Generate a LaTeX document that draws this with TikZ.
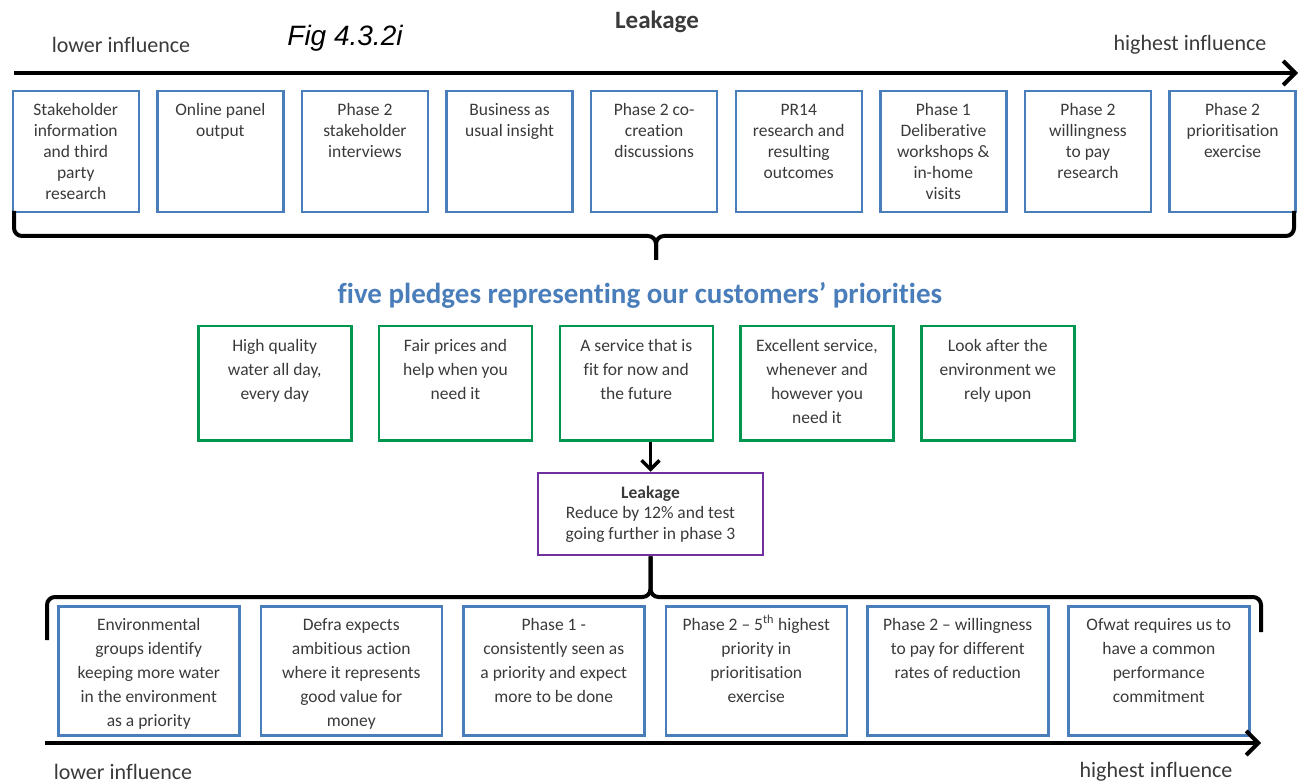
\documentclass[tikz,border=0pt]{standalone}
\usepackage{fontspec}
\setmainfont{Carlito}[Ligatures=TeX, RawFeature={-liga;-clig;-calt}]
\newfontfamily\figfont{Liberation Sans}
\usetikzlibrary{arrows.meta}

\definecolor{boxblue}{RGB}{74,126,187}
\definecolor{pledgegreen}{RGB}{0,150,80}
\definecolor{leakpurple}{RGB}{112,48,160}
\definecolor{inkgray}{RGB}{58,58,58}
\definecolor{titleblue}{RGB}{74,126,187}

% top-aligned, centred text block of fixed size: width, height, top pad, text
\newcommand\celltext[4]{\parbox[c][#2][t]{#1}{\vspace*{#3}\centering\strut #4\par}}
\newcommand\topcell[1]{\celltext{126pt}{121pt}{10pt}{#1}}
\newcommand\pledgecell[1]{\celltext{153pt}{114pt}{8pt}{#1}}
\newcommand\basecell[1]{\celltext{181pt}{129pt}{7pt}{#1}}

\tikzset{
  cellbox/.style={draw, line width=2.5pt, inner sep=0pt, anchor=north west, text=inkgray},
  sourcebox/.style={cellbox, draw=boxblue, font=\fontsize{17.5}{21}\selectfont},
  pledgebox/.style={cellbox, draw=pledgegreen, font=\fontsize{17.5}{24}\selectfont},
  evidencebox/.style={cellbox, draw=boxblue, font=\fontsize{17.5}{24}\selectfont},
  leakbox/.style={draw=leakpurple, line width=2.5pt, minimum width=225pt, minimum height=82pt,
    align=center, text=inkgray, font=\fontsize{17.5}{20.5}\selectfont},
  axislabel/.style={text=inkgray, font=\fontsize{22}{26}\selectfont},
  timeline/.style={line width=4pt, -{Straight Barb[length=12pt,width=24pt]}},
  brace/.style={line width=4pt, rounded corners=8pt},
  flow/.style={line width=3.5pt, -{Straight Barb[length=9pt,width=18pt]}}
}

\begin{document}
\begin{tikzpicture}[x=1pt,y=-1pt]
\useasboundingbox (0,0) rectangle (1303,783);

% headings
\node[axislabel] (lowtop) at (121,45) {lower influence};
\node (fig) at (345,38) {\figfont\itshape\fontsize{28}{32}\selectfont Fig 4.3.2i};
\node[axislabel, font=\bfseries\fontsize{25}{29}\selectfont] (heading) at (657,22) {Leakage};
\node[axislabel] (hightop) at (1190,45) {highest influence};

% influence axis above the sources
\coordinate (axA) at (14,73);
\coordinate (axB) at (1298,73);
\draw[timeline] (axA) -- (axB);

% sources of insight
\node[sourcebox] (s1) at (11.5,90)   {\topcell{Stakeholder\\information\\and third\\party\\research}};
\node[sourcebox] (s2) at (156.1,90)  {\topcell{Online panel\\output}};
\node[sourcebox] (s3) at (300.7,90)  {\topcell{Phase 2\\stakeholder\\interviews}};
\node[sourcebox] (s4) at (445.3,90)  {\topcell{Business as\\usual insight}};
\node[sourcebox] (s5) at (589.9,90)  {\topcell{Phase 2 co-\\creation\\discussions}};
\node[sourcebox] (s6) at (734.5,90)  {\topcell{PR14\\research and\\resulting\\outcomes}};
\node[sourcebox] (s7) at (879.1,90)  {\topcell{Phase 1\\Deliberative\\workshops \&\\in-home\\visits}};
\node[sourcebox] (s8) at (1023.7,90) {\topcell{Phase 2\\willingness\\to pay\\research}};
\node[sourcebox] (s9) at (1168.3,90) {\topcell{Phase 2\\prioritisation\\exercise}};

% brace gathering the sources
\coordinate (tb) at (656,260);
\draw[brace] (14,211) |- (656,236) -- (tb);
\draw[brace] (1294,211) |- (656,236) -- (tb);

\node[text=titleblue, font=\bfseries\fontsize{29}{33}\selectfont] (pledgetitle) at (640,295)
  {five pledges representing our customers’ priorities};

% the five pledges
\node[pledgebox] (p1) at (197,325)    {\pledgecell{High quality\\water all day,\\every day}};
\node[pledgebox] (p2) at (377.75,325) {\pledgecell{Fair prices and\\help when you\\need it}};
\node[pledgebox] (p3) at (558.5,325)  {\pledgecell{A service that is\\fit for now and\\the future}};
\node[pledgebox] (p4) at (739.25,325) {\pledgecell{Excellent service,\\whenever and\\however you\\need it}};
\node[pledgebox] (p5) at (920,325)    {\pledgecell{Look after the\\environment we\\rely upon}};

% the commitment
\node[leakbox] (leak) at (650.5,514) {\textbf{Leakage}\\Reduce by 12\% and test\\going further in phase 3};
\draw[flow] (leak.north |- p3.south) -- (leak.north);

% brace spreading the evidence
\draw[brace] (leak.south) |- (47,597) -- (47,640);
\draw[brace] (leak.south) |- (1261,597) -- (1261,632);

% evidence behind the commitment
\node[evidencebox] (e1) at (57,605)   {\basecell{Environmental\\groups identify\\keeping more water\\in the environment\\as a priority}};
\node[evidencebox] (e2) at (259.5,605) {\basecell{Defra expects\\ambitious action\\where it represents\\good value for\\money}};
\node[evidencebox] (e3) at (462,605)  {\basecell{Phase 1 -\\consistently seen as\\a priority and expect\\more to be done}};
\node[evidencebox] (e4) at (664.5,605) {\basecell{Phase 2 – 5\textsuperscript{th} highest\\priority in\\prioritisation\\exercise}};
\node[evidencebox] (e5) at (866,605)  {\basecell{Phase 2 – willingness\\to pay for different\\rates of reduction}};
\node[evidencebox] (e6) at (1067,605) {\basecell{Ofwat requires us to\\have a common\\performance\\commitment}};

% influence axis below the evidence
\coordinate (bxA) at (45,743);
\coordinate (bxB) at (1261,743);
\draw[timeline] (bxA) -- (bxB);

\node[axislabel] (lowbot) at (123,772) {lower influence};
\node[axislabel] (highbot) at (1156,772) {highest influence};
\end{tikzpicture}
\end{document}
